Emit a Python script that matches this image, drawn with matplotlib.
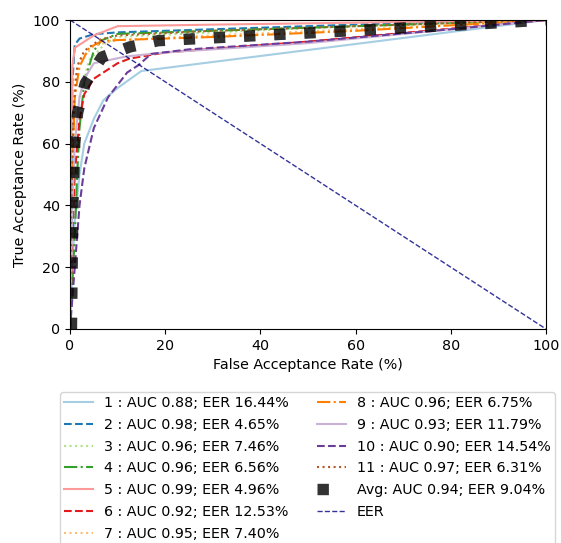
import matplotlib
matplotlib.use("Agg")
import matplotlib.pyplot as plt
import numpy as np

# ROC curves per user (FAR %, TAR %)
labels = ["1", "2", "3", "4", "5", "6", "7", "8", "9", "10", "11"]
auc = [0.88, 0.98, 0.96, 0.96, 0.99, 0.92, 0.95, 0.96, 0.93, 0.90, 0.97]
eer = [16.44, 4.65, 7.46, 6.56, 4.96, 12.53, 7.40, 6.75, 11.79, 14.54, 6.31]

far = [
    [0, 0.5, 1, 2, 3, 5, 7, 10, 15, 100],
    [0, 0.3, 0.5, 1, 2, 5, 10, 30, 60, 100],
    [0, 0.5, 1, 2, 4, 7.5, 10, 30, 60, 100],
    [0, 1, 1.5, 2, 3, 5, 6.6, 10, 30, 60, 100],
    [0, 0.2, 0.5, 1, 5, 10, 30, 100],
    [0, 0.5, 1, 2, 3, 5, 10, 12.5, 20, 50, 100],
    [0, 0.5, 1, 2, 5, 7.4, 10, 30, 60, 100],
    [0, 0.5, 1, 2, 4, 6.75, 10, 30, 60, 100],
    [0, 0.5, 1, 2, 3, 5, 11.8, 20, 50, 100],
    [0, 1, 2, 3, 5, 8, 12, 14.5, 17, 25, 50, 80, 100],
    [0, 0.3, 0.7, 1.5, 3, 6.3, 10, 30, 60, 100],
]
tar = [
    [0, 20, 35, 50, 60, 68, 74, 78, 83.5, 100],
    [0, 50, 80, 92, 94, 95.4, 96, 97, 98.5, 100],
    [0, 40, 60, 75, 87, 92.5, 94.5, 96, 98, 100],
    [0, 30, 50, 65, 80, 90, 93.4, 95.5, 96.5, 98, 100],
    [0, 50, 85, 91, 95, 98, 98.5, 100],
    [0, 30, 50, 68, 76, 81, 86, 87.5, 89.5, 93, 100],
    [0, 50, 80, 87, 91.5, 92.6, 93.5, 95, 97, 100],
    [0, 50, 75, 85, 91, 93.25, 93.5, 94.5, 96.5, 100],
    [0, 40, 60, 75, 81, 86, 88.2, 89.5, 92.5, 100],
    [0, 20, 40, 52, 65, 75, 83, 85.5, 89, 90.5, 93, 97, 100],
    [0, 40, 70, 85, 90, 93.7, 95, 96.5, 98, 100],
]
styles = ["-", "--", ":", "-.", "-", "--", ":", "-.", "-", "--", ":"]

avg_far = [0.3, 0.6, 1, 1.6, 3.2, 6.7, 12.6, 18.5, 50, 82, 100]
avg_tar = [0, 40, 60, 70, 79.5, 88, 91.3, 93.3, 95.8, 98.4, 100]
avg_auc, avg_eer = 0.94, 9.04

# Paired palette, skipping the pale yellow
colors = [plt.cm.Paired(k) for k in [0, 1, 2, 3, 4, 5, 6, 7, 8, 9, 11]]

plt.rcParams["font.size"] = 10.25

fig = plt.figure(figsize=(5.61, 5.43), dpi=100)
ax = fig.add_axes([70 / 561, 214 / 543, 476 / 561, 309 / 543])

for i in range(len(labels)):
    ax.plot(far[i], tar[i], linestyle=styles[i], color=colors[i], lw=1.5,
            label=f"{labels[i]} : AUC {auc[i]:.2f}; EER {eer[i]:.2f}%")

ax.plot(avg_far, avg_tar, linestyle=":", lw=8.2, color="black", alpha=0.8,
        label=f"Avg: AUC {avg_auc:.2f}; EER {avg_eer:.2f}%")
ax.plot([0, 100], [100, 0], linestyle="--", lw=1, color="navy", alpha=0.8, label="EER")

ax.set_xlim(0, 100)
ax.set_ylim(0, 100)
ax.set_xlabel("False Acceptance Rate (%)")
ax.set_ylabel("True Acceptance Rate (%)")

ax.legend(loc="upper center", bbox_to_anchor=(0.548, 0.291), bbox_transform=fig.transFigure,
          ncol=2, borderpad=0.3, labelspacing=0.54)

plt.savefig("out.png", dpi=100)
